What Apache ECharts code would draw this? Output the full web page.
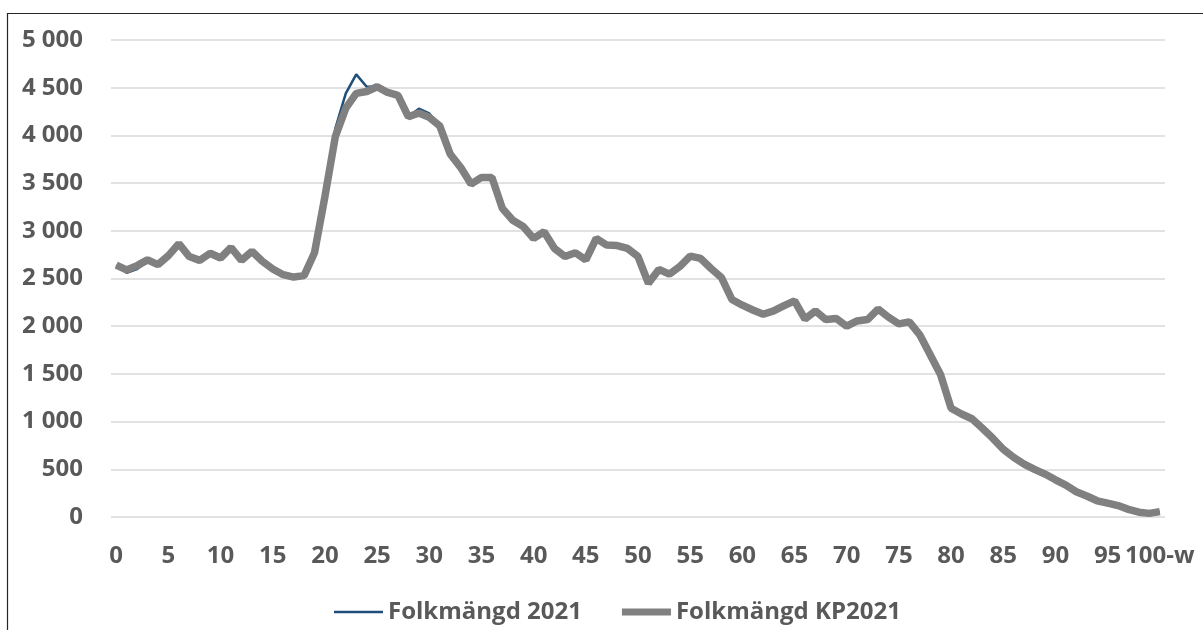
<!DOCTYPE html>
<html>
<head>
<meta charset="utf-8">
<script src="https://cdn.jsdelivr.net/npm/echarts@6/dist/echarts.min.js"></script>
<style>
  html, body { margin: 0; padding: 0; background: #fff; }
  #main { width: 1203px; height: 630px; }
</style>
</head>
<body>
<div id="main"></div>
<script>
// age categories 0..99, then 100-w
var ages = [];
for (var a = 0; a < 100; a++) ages.push(String(a));
ages.push('100-w');

// Folkmängd KP2021 (thick grey line)
var kp2021 = [
  2640, 2590, 2635, 2695, 2645, 2740, 2865, 2730, 2690, 2765,
  2715, 2825, 2690, 2785, 2680, 2600, 2540, 2515, 2530, 2770,
  3360, 3990, 4285, 4440, 4460, 4510, 4450, 4420, 4195, 4235,
  4190, 4100, 3805, 3665, 3490, 3560, 3560, 3235, 3110, 3045,
  2920, 2990, 2815, 2730, 2770, 2695, 2920, 2850, 2845, 2815,
  2730, 2450, 2595, 2545, 2625, 2735, 2710, 2605, 2510, 2280,
  2220, 2170, 2125, 2160, 2215, 2265, 2075, 2160, 2070, 2080,
  2000, 2055, 2070, 2180, 2095, 2025, 2045, 1910, 1700, 1490,
  1140, 1080, 1030, 930, 825, 710, 625, 555, 500, 450,
  390, 335, 265, 220, 170, 145, 120, 80, 50, 38,
  56
];

// Folkmängd 2021 (thin blue line)
var folk2021 = [
  2640, 2560, 2600, 2680, 2645, 2740, 2865, 2730, 2680, 2765,
  2715, 2825, 2690, 2785, 2680, 2600, 2535, 2520, 2525, 2770,
  3360, 4075, 4440, 4640, 4510, 4510, 4450, 4420, 4195, 4280,
  4230, 4100, 3805, 3665, 3490, 3560, 3560, 3235, 3110, 3045,
  2920, 2990, 2815, 2730, 2770, 2695, 2920, 2850, 2845, 2815,
  2730, 2450, 2595, 2545, 2625, 2735, 2710, 2605, 2510, 2280,
  2220, 2170, 2125, 2160, 2215, 2265, 2075, 2160, 2070, 2080,
  2000, 2055, 2070, 2180, 2095, 2025, 2045, 1910, 1700, 1490,
  1140, 1080, 1030, 930, 825, 710, 625, 555, 500, 450,
  390, 335, 265, 220, 170, 145, 120, 80, 50, 38,
  56
];

var seriesNames = ['Folkmängd 2021', 'Folkmängd KP2021'];

var txtColor = '#595959';
var font = 'Open Sans';
var blue = '#1f4e79';
var grey = '#808080';

var myChart = echarts.init(document.getElementById('main'), null, { renderer: 'canvas' });

var option = {
    backgroundColor: '#fff',
    animation: false,
    graphic: [{
        type: 'polyline',
        shape: { points: [[7.5, 630], [7.5, 13.5], [1203, 13.5]] },
        style: { stroke: '#262626', lineWidth: 1.2, fill: null },
        silent: true
    }],
    grid: { left: 111, right: 38, top: 40, bottom: 113 },
    legend: {
        data: [{
            name: seriesNames[0],
            icon: 'path://M0,0h49v2.5h-49z',
            itemStyle: { color: blue }
        }, {
            name: seriesNames[1],
            icon: 'path://M0,0h49v7h-49z',
            itemStyle: { color: grey }
        }],
        left: 329,
        top: 595,
        itemWidth: 49,
        itemHeight: 14,
        itemGap: 40,
        symbolKeepAspect: true,
        textStyle: { color: txtColor, fontFamily: font, fontWeight: 'bold', fontSize: 24 }
    },
    xAxis: {
        type: 'category',
        data: ages,
        boundaryGap: true,
        axisLine: { show: false },
        axisTick: { show: false },
        axisLabel: {
            interval: 4,
            margin: 27,
            color: txtColor,
            fontFamily: font,
            fontWeight: 'bold',
            fontSize: 24
        }
    },
    yAxis: {
        type: 'value',
        min: 0,
        max: 5000,
        interval: 500,
        axisLine: { show: false },
        axisTick: { show: false },
        splitLine: { lineStyle: { color: '#d9d9d9', width: 1.5 } },
        axisLabel: {
            margin: 28,
            color: txtColor,
            fontFamily: font,
            fontWeight: 'bold',
            fontSize: 24,
            formatter: function (v) {
                return String(v).replace(/\B(?=(\d{3})+(?!\d))/g, ' ');
            }
        }
    },
    series: [{
        name: seriesNames[0],
        type: 'line',
        data: folk2021,
        symbol: 'none',
        lineStyle: { color: blue, width: 2.5 },
        itemStyle: { color: blue }
    }, {
        name: seriesNames[1],
        type: 'line',
        data: kp2021,
        symbol: 'none',
        lineStyle: { color: grey, width: 7.5 },
        itemStyle: { color: grey }
    }]
};

myChart.setOption(option);
</script>
</body>
</html>
